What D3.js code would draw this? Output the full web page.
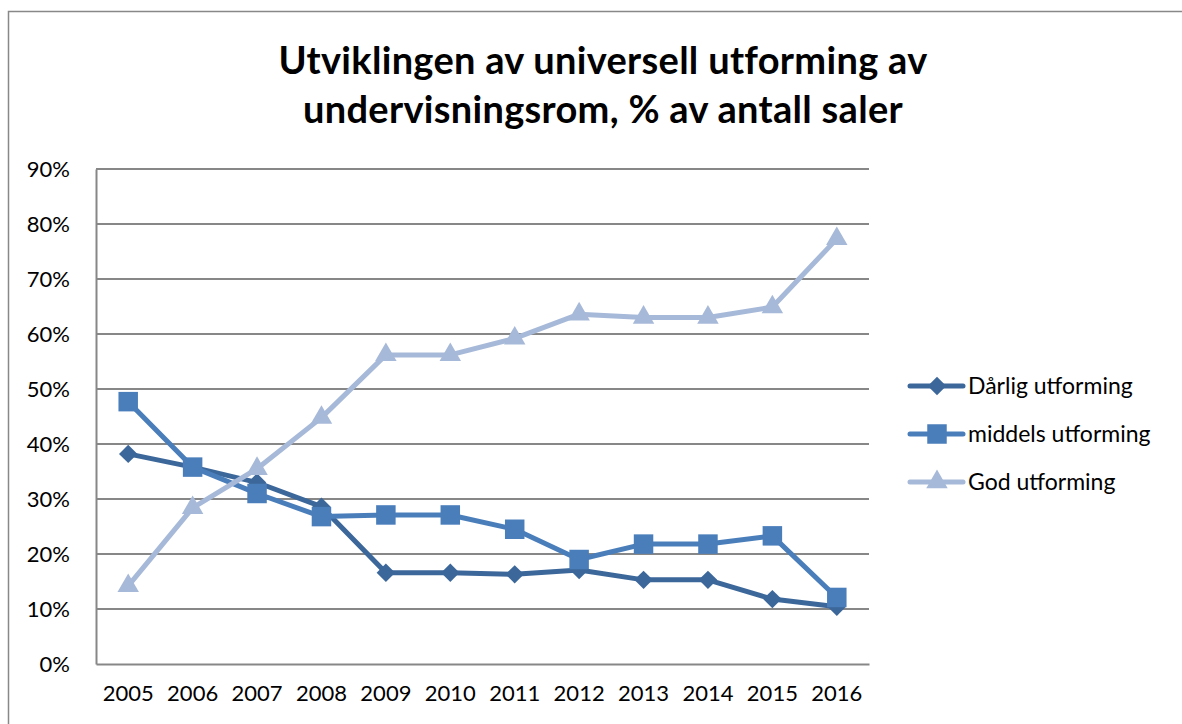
<!DOCTYPE html>
<html>
<head>
<meta charset="utf-8">
<script src="https://cdn.jsdelivr.net/npm/d3@7"></script>
<style>
  body { margin: 0; background: #fff; }
  svg { display: block; font-family: Lato, "Open Sans", sans-serif; }
</style>
</head>
<body>
<div id="chart"></div>
<script>
const years = ['2005', '2006', '2007', '2008', '2009', '2010', '2011', '2012', '2013', '2014', '2015', '2016'];
const darlig = [38.2, 35.8, 33.0, 28.6, 16.6, 16.6, 16.3, 17.1, 15.3, 15.3, 11.8, 10.4];
const middels = [47.7, 35.8, 31.0, 26.8, 27.1, 27.1, 24.5, 19.0, 21.8, 21.8, 23.3, 12.1];
const god = [14.2, 28.4, 35.5, 44.8, 56.2, 56.2, 59.2, 63.6, 63.0, 63.0, 64.9, 77.3];
const yTicks = [0, 10, 20, 30, 40, 50, 60, 70, 80, 90];

// diamond = square turned 45 degrees, like the spreadsheet marker
const series = [
    { name: 'Dårlig utforming', values: darlig, color: '#3C679A', shape: d3.symbolSquare, size: 170, rot: 45 },
    { name: 'middels utforming', values: middels, color: '#4A7EBB', shape: d3.symbolSquare, size: 380, rot: 0 },
    { name: 'God utforming', values: god, color: '#A7B9D8', shape: d3.symbolTriangle, size: 200, rot: 0 }
];

const width = 1182;
const height = 724;
const margin = { top: 169, left: 96, right: 1182 - 869, bottom: 724 - 664 };
const font = 'Lato, "Open Sans", sans-serif';

const svg = d3.select('#chart')
    .append('svg')
    .attr('width', width)
    .attr('height', height);

// chart frame (only top and left visible)
svg.append('path')
    .attr('d', 'M 8.5,724 L 8.5,11.5 L 1182,11.5')
    .attr('fill', 'none')
    .attr('stroke', '#888')
    .attr('stroke-width', 1.5);

svg.append('text')
    .attr('x', 603)
    .attr('y', 74)
    .attr('text-anchor', 'middle')
    .attr('font-size', 38)
    .attr('font-weight', 'bold')
    .attr('letter-spacing', 0.3)
    .text('Utviklingen av universell utforming av');
svg.append('text')
    .attr('x', 603)
    .attr('y', 123)
    .attr('text-anchor', 'middle')
    .attr('font-size', 38)
    .attr('font-weight', 'bold')
    .attr('letter-spacing', 0.3)
    .text('undervisningsrom, % av antall saler');

const x = d3.scaleBand()
    .domain(years)
    .range([margin.left, width - margin.right]);

const y = d3.scaleLinear()
    .domain([0, 90])
    .range([height - margin.bottom, margin.top]);

// gridlines
svg.append('g')
    .selectAll('line')
    .data(yTicks.slice(1))
    .enter().append('line')
    .attr('x1', margin.left)
    .attr('x2', width - margin.right)
    .attr('y1', d => y(d))
    .attr('y2', d => y(d))
    .attr('stroke', '#878787')
    .attr('stroke-width', 2);

// y axis
const yAxis = svg.append('g')
    .attr('transform', `translate(${margin.left},0)`)
    .call(d3.axisLeft(y).tickValues(yTicks).tickFormat(d => d + '%').tickSize(0).tickPadding(26));
yAxis.select('.domain').attr('stroke', '#878787').attr('stroke-width', 2);
yAxis.selectAll('text').attr('font-size', 22).attr('fill', '#000').attr('font-family', font);

// x axis
const xAxis = svg.append('g')
    .attr('transform', `translate(0,${height - margin.bottom})`)
    .call(d3.axisBottom(x).tickSize(0).tickPadding(21));
xAxis.select('.domain').attr('stroke', '#878787').attr('stroke-width', 2);
xAxis.selectAll('text').attr('font-size', 22).attr('fill', '#000').attr('font-family', font);

const cx = (d, i) => x(years[i]) + x.bandwidth() / 2;

const line = d3.line()
    .x(cx)
    .y(d => y(d));

series.forEach(s => {
    const g = svg.append('g');
    g.append('path')
        .datum(s.values)
        .attr('fill', 'none')
        .attr('stroke', s.color)
        .attr('stroke-width', 5)
        .attr('stroke-linejoin', 'round')
        .attr('d', line);
    g.selectAll('path.mark')
        .data(s.values)
        .enter().append('path')
        .attr('class', 'mark')
        .attr('d', d3.symbol().type(s.shape).size(s.size))
        .attr('fill', s.color)
        .attr('transform', (d, i) => `translate(${cx(d, i)},${y(d)}) rotate(${s.rot})`);
});

// legend
const legend = svg.append('g')
    .attr('transform', 'translate(910,386)');
series.forEach((s, i) => {
    const row = legend.append('g').attr('transform', `translate(0,${i * 48})`);
    row.append('line')
        .attr('x1', 0).attr('x2', 53)
        .attr('stroke', s.color)
        .attr('stroke-width', 5)
        .attr('stroke-linecap', 'round');
    row.append('path')
        .attr('d', d3.symbol().type(s.shape).size(s.size))
        .attr('fill', s.color)
        .attr('transform', `translate(27,0) rotate(${s.rot})`);
    row.append('text')
        .attr('x', 58)
        .attr('dy', '0.35em')
        .attr('font-size', 23)
        .text(s.name);
});
</script>
</body>
</html>
